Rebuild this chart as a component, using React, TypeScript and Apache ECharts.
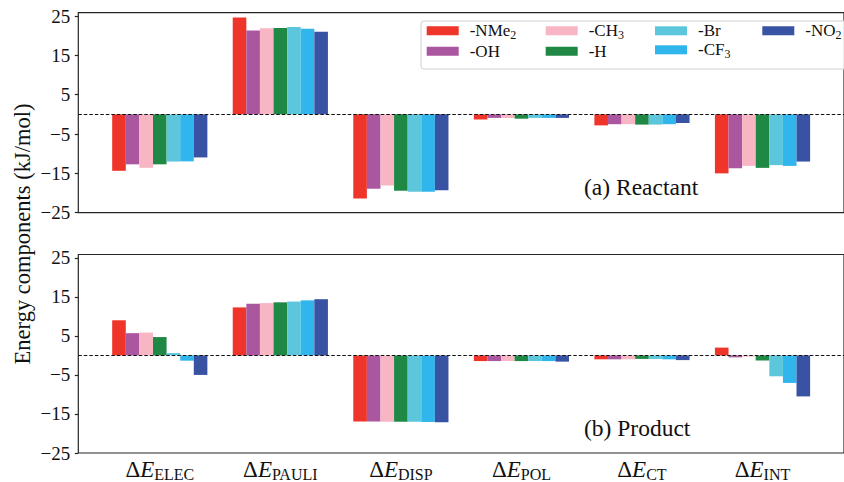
import React, { useEffect, useRef } from "react";
import * as echarts from "echarts";

// ---- data ----
const categories = ["ELEC", "PAULI", "DISP", "POL", "CT", "INT"];
const substituents = ["-NMe2", "-OH", "-CH3", "-H", "-Br", "-CF3", "-NO2"];
const yTicks = [-25, -15, -5, 5, 15, 25];

// (a) Reactant
const reactNMe2 = [-14.35, 24.6, -21.4, -1.3, -2.8, -15.0];
const reactOH = [-12.7, 21.3, -18.9, -0.9, -2.5, -13.7];
const reactCH3 = [-13.6, 21.9, -18.1, -0.9, -2.5, -13.1];
const reactH = [-12.7, 21.95, -19.4, -1.1, -2.6, -13.6];
const reactBr = [-12.0, 22.2, -19.7, -0.9, -2.6, -12.9];
const reactCF3 = [-11.95, 21.8, -19.7, -0.9, -2.5, -13.1];
const reactNO2 = [-10.95, 21.0, -19.3, -0.9, -2.2, -12.0];

// (b) Product
const prodNMe2 = [9.0, 12.3, -16.9, -1.45, -1.0, 2.0];
const prodOH = [5.7, 13.25, -16.95, -1.45, -1.0, -0.5];
const prodCH3 = [5.85, 13.4, -17.0, -1.45, -1.0, -0.3];
const prodH = [4.7, 13.6, -17.0, -1.45, -0.9, -1.3];
const prodBr = [0.6, 13.8, -17.0, -1.45, -0.9, -5.35];
const prodCF3 = [-1.35, 14.1, -17.05, -1.45, -1.0, -7.05];
const prodNO2 = [-5.0, 14.4, -17.1, -1.6, -1.2, -10.5];

const reactant = [reactNMe2, reactOH, reactCH3, reactH, reactBr, reactCF3, reactNO2];
const product = [prodNMe2, prodOH, prodCH3, prodH, prodBr, prodCF3, prodNO2];

// ---- styles ----
const colors = ["#EF342A", "#AA57A0", "#F8B6C5", "#1F8844", "#5CC7DC", "#30B6EC", "#3953A4"];
const FONT = '"Liberation Serif", "DejaVu Serif", serif';
const INK = "#262626";

export default function App() {
  const ref = useRef<HTMLDivElement>(null);

  useEffect(() => {
    if (!ref.current) return;
    const chart = echarts.init(ref.current, undefined, { renderer: "svg" });

    const gridLeft = 78.3;
    const gridWidth = 777.4;
    const grids = [
      { left: gridLeft, width: gridWidth, top: 12.7, height: 200 },
      { left: gridLeft, width: gridWidth, top: 254.5, height: 201 },
    ].map((g) => ({ ...g, show: true, borderColor: INK, borderWidth: 1.2, backgroundColor: "transparent" }));

    const catIdx = categories.map((_, i) => i);

    const xAxes = [0, 1].map((gi) => ({
      type: "value",
      gridIndex: gi,
      position: "bottom",
      min: -0.676,
      max: 5.676,
      splitLine: { show: false },
      axisLine: { show: false, onZero: false },
      axisTick: { show: false },
      axisLabel:
        gi === 1
          ? {
              show: true,
              customValues: catIdx,
              margin: 3,
              formatter: (v: number) => `{d|Δ}{e|E}{s|${categories[Math.round(v)]}}`,
              rich: {
                d: { fontFamily: FONT, fontSize: 23, lineHeight: 26, color: "#111" },
                e: { fontFamily: FONT, fontSize: 23, lineHeight: 26, fontStyle: "italic", color: "#111" },
                s: { fontFamily: FONT, fontSize: 16, lineHeight: 14, verticalAlign: "bottom", color: "#111" },
              },
            }
          : { show: false },
    }));

    const yAxes = [0, 1].map((gi) => ({
      type: "value",
      gridIndex: gi,
      position: "left",
      min: -25,
      max: 25.85,
      splitLine: { show: false },
      axisLine: { show: false, onZero: false },
      axisTick: { show: true, customValues: yTicks, length: 3.5, lineStyle: { color: INK, width: 1.2 } },
      axisLabel: {
        customValues: yTicks,
        margin: 8,
        fontFamily: FONT,
        fontSize: 19,
        color: "#111",
        formatter: (v: number) => String(v).replace("-", "\u2212"),
      },
    }));

    const series: any[] = [];
    [reactant, product].forEach((set, gi) => {
      set.forEach((vals, si) => {
        series.push({
          type: "bar",
          name: substituents[si],
          xAxisIndex: gi,
          yAxisIndex: gi,
          barWidth: 13.6,
          barGap: "0%",
          itemStyle: { color: colors[si] },
          data: vals.map((v, ci) => [catIdx[ci], v]),
          markLine:
            si === set.length - 1
              ? {
                  silent: true,
                  symbol: ["none", "none"],
                  label: { show: false },
                  lineStyle: { color: "#111", type: [3.5, 2], width: 1.1 },
                  data: [{ yAxis: 0 }],
                }
              : undefined,
        });
      });
    });

    const legendCols = [
      { left: 426.7, names: ["-NMe2", "-OH"] },
      { left: 545.7, names: ["-CH3", "-H"] },
      { left: 655, names: ["-Br", "-CF3"] },
      { left: 762.3, names: ["-NO2"] },
    ];
    const legends = legendCols.map((c) => ({
      orient: "vertical",
      left: c.left,
      top: 22.3,
      z: 10,
      padding: 0,
      itemWidth: 32,
      itemHeight: 9,
      itemGap: 2,
      selectedMode: false,
      icon: "rect",
      data: c.names,
      formatter: (name: string) => {
        const m = name.match(/^(.*?)(\d*)$/)!;
        return m[2] ? `{t|${m[1]}}{s|${m[2]}}` : `{t|${m[1]}}`;
      },
      textStyle: {
        padding: [0, 0, 0, 6],
        rich: {
          t: { fontFamily: FONT, fontSize: 17, lineHeight: 20, color: "#111" },
          s: { fontFamily: FONT, fontSize: 12, lineHeight: 10, verticalAlign: "bottom", color: "#111" },
        },
      },
    }));

    chart.setOption({
      animation: false,
      backgroundColor: "#fff",
      grid: grids,
      xAxis: xAxes,
      yAxis: yAxes,
      legend: legends,
      series,
      graphic: [
        {
          type: "rect",
          z: 5,
          shape: { x: 421, y: 21, width: 440, height: 48, r: 3 },
          style: { fill: "rgba(255,255,255,0.85)", stroke: "#d0d0d0", lineWidth: 1 },
        },
        {
          type: "text",
          x: 22,
          y: 234,
          rotation: Math.PI / 2,
          style: {
            text: "Energy components (kJ/mol)",
            fontFamily: FONT,
            fontSize: 22.5,
            fill: "#111",
            align: "center",
            verticalAlign: "middle",
          },
        },
        {
          type: "text",
          x: 584,
          y: 186.5,
          style: { text: "(a) Reactant", fontFamily: FONT, fontSize: 23.5, fill: "#111", align: "left", verticalAlign: "middle" },
        },
        {
          type: "text",
          x: 584,
          y: 428,
          style: { text: "(b) Product", fontFamily: FONT, fontSize: 23.5, fill: "#111", align: "left", verticalAlign: "middle" },
        },
      ],
    });

    return () => chart.dispose();
  }, []);

  return <div ref={ref} style={{ position: "fixed", left: 0, top: 0, width: 844, height: 482 }} />;
}
